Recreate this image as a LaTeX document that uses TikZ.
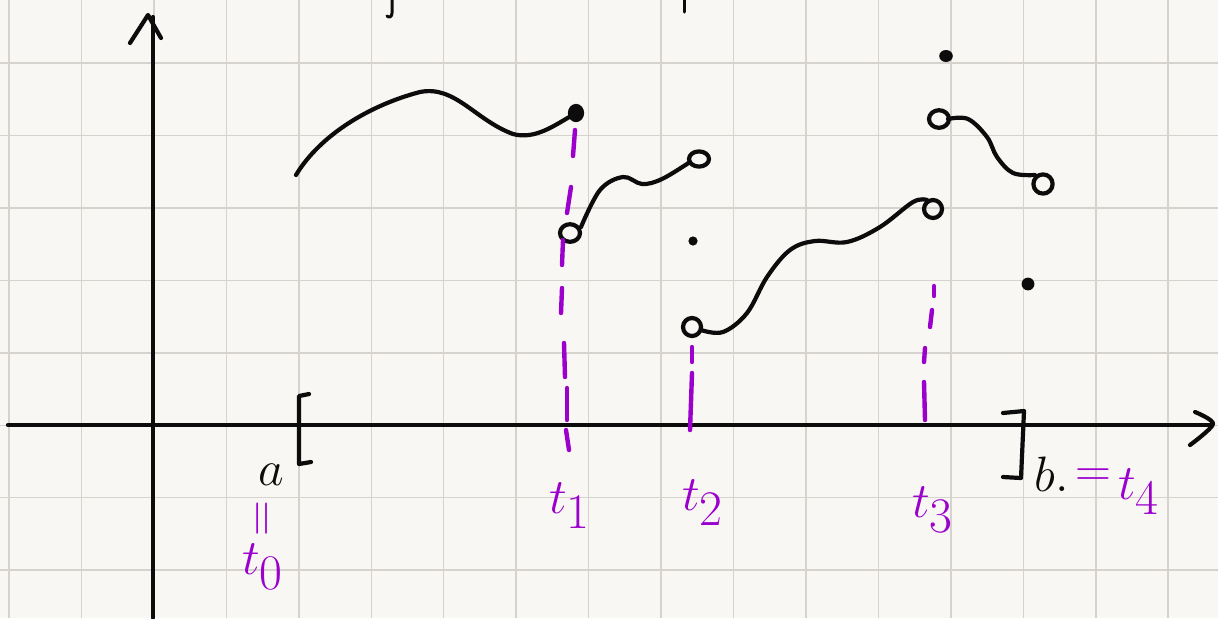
\documentclass[tikz,border=0pt]{standalone}
\definecolor{paper}{RGB}{249,247,243}
\definecolor{gridc}{RGB}{214,211,206}
\definecolor{purp}{RGB}{155,0,205}
\definecolor{inkc}{RGB}{12,12,12}
\begin{document}
\begin{tikzpicture}[x=0.5pt,y=-0.5pt,
  gridline/.style={gridc,line width=0.75pt},
  ink/.style={inkc,line width=2.1pt,line cap=round,line join=round},
  thinink/.style={inkc,line width=1.5pt,line cap=round,line join=round},
  pdash/.style={purp,line width=2.2pt,line cap=round},
  lbl/.style={font=\fontsize{37}{40}\selectfont,inner sep=0pt},
  plbl/.style={lbl,text=purp},
  blbl/.style={lbl,text=inkc}]
\useasboundingbox (0,0) rectangle (1218,618);
\fill[paper] (0,0) rectangle (1218,618);
\foreach \i in {0,...,16} \draw[gridline] ({9+72.45*\i},0) -- ({9+72.45*\i},618);
\foreach \j in {0,...,7} \draw[gridline] (0,{63+72.45*\j}) -- (1218,{63+72.45*\j});

% axes
\draw[ink] (8,425) -- (1212,425);
\draw[ink] plot[smooth] coordinates {(1195,412) (1213,424) (1190,445)};
\draw[ink] (153,618) -- (153,17);
\draw[ink] (130,43) -- (148,15) -- (161,38);

% top fragments
\draw[thinink] (392,0) -- (392,13) .. controls (392,17) and (389,18) .. (387,16);
\draw[thinink] (684,0) -- (684,12);

% brackets
\draw[ink] (309,394) -- (299,396) -- (299,464) -- (311,462);
\draw[ink] (1003,413) -- (1024,411) -- (1021,478) -- (1003,477);

% curve 1
\draw[ink] (296,175) .. controls (320,135) and (370,105) .. (420,92)
  .. controls (455,85) and (475,120) .. (513,134)
  .. controls (535,140) and (555,125) .. (571,116);
\fill[inkc] (576,113) ellipse [x radius=3pt,y radius=3.5pt];
\draw[ink] (576,113) ellipse [x radius=3pt,y radius=3.5pt];

% curve 2
\draw[ink] (570,233) ellipse [x radius=5pt,y radius=4.4pt];
\draw[ink] plot[smooth,tension=0.6] coordinates {(581,227) (600,190) (623,177) (642,184) (662,179) (690,162)};
\draw[ink] (699,159) ellipse [x radius=5pt,y radius=3.8pt];

% isolated dots
\fill[inkc] (693,241) circle [radius=2.3pt];
\fill[inkc] (946,56) ellipse [x radius=3.4pt,y radius=3pt];
\fill[inkc] (1028,284) circle [radius=3.2pt];

% curve 4
\draw[ink] (692,327) circle [radius=4.5pt];
\draw[ink] plot[smooth,tension=0.6] coordinates {(701,330) (723,332) (747,313) (767,277) (790,250) (815,241) (847,242) (880,227) (913,202) (927,200)};
\draw[ink] (933,209) circle [radius=4.5pt];

% curve 6
\draw[ink] (939,119) ellipse [x radius=5pt,y radius=4.4pt];
\draw[ink] plot[smooth,tension=0.6] coordinates {(948,119) (968,119) (987,137) (997,157) (1013,173) (1035,175)};
\draw[ink] (1043,184) circle [radius=4.8pt];

% purple dashed verticals
\foreach \a/\b/\c/\d in {575/130/573/156, 571/187/567/213, 563/240/562/265, 562/288/561/313, 564/343/565/377, 567/388/567/420, 566/430/569/450,
  692/347/692/362, 692/373/690/430,
  934/286/934/296, 932/310/930/327, 925/348/924/362, 924/382/925/420}
  \draw[pdash] (\a,\b) -- (\c,\d);

% labels
\node[blbl] (a) at (271,475) {$a$};
\node[plbl,rotate=90,font=\fontsize{44}{46}\selectfont] (eq0) at (266,519) {$=$};
\node[plbl] (t0) at (263,567) {$t_0$};
\node[plbl] (t1) at (570,506) {$t_1$};
\node[plbl] (t2) at (703,503) {$t_2$};
\node[plbl] (t3) at (933,510) {$t_3$};
\node[blbl] (b) at (1052,474) {$b.$};
\node[plbl] (eq4) at (1093,478) {$=$};
\node[plbl] (t4) at (1139,492) {$t_4$};
\end{tikzpicture}
\end{document}
